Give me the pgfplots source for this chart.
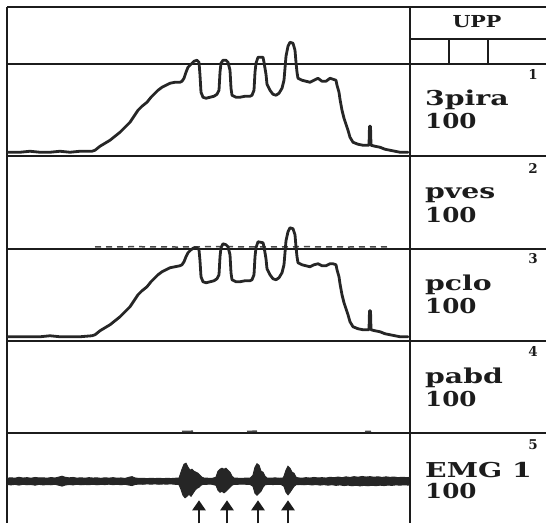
\documentclass[border=0pt]{standalone}
\usepackage{fontspec}
\setmainfont{DejaVu Serif}
\usepackage{graphicx}
\usepackage{pgfplots}
\pgfplotsset{compat=1.18}
\usepackage{pgfplotstable}
\usepgfplotslibrary{fillbetween}
\usetikzlibrary{arrows.meta}

% 3pira pressure trace (time in samples, pressure in panel units)
\pgfplotstableread{
t v
1 4
13 4
23 5
33 4
43 4
53 5
63 4
73 5
85 5
88 6
93 10
98 13
103 16
108 20
113 24
118 29
123 34
127 40
131 46
135 50
140 54
144 59
148 63
151 66
155 69
159 71
163 73
168 74
173 74
175 75
177 78
179 84
181 89
184 92
187 95
190 96
192 94
193 81
194 64
196 59
199 58
203 59
207 60
210 62
212 66
213 84
214 93
216 96
219 96
221 94
223 86
224 68
225 61
229 59
233 59
238 60
243 60
245 61
247 66
248 84
249 93
251 99
256 99
257 94
259 82
260 72
263 66
266 62
269 61
272 63
275 68
277 76
278 88
279 100
281 110
283 114
286 113
288 106
289 94
290 84
291 78
295 76
299 75
303 74
307 76
311 78
315 75
319 75
323 78
326 77
329 76
330 71
332 64
333 57
335 46
337 38
339 32
341 26
343 19
346 14
351 12
356 11
361 11
362 11
362.5 30
363.5 30
364 11
368 10
373 9
378 7
383 6
388 5
393 4
401 4
}\pirtrace

% pclo pressure trace
\pgfplotstableread{
t v
1 4
13 4
23 4
33 4
43 5
53 4
63 4
73 4
85 5
88 6
93 10
98 13
103 16
108 20
113 24
118 29
123 34
127 40
131 46
135 50
140 54
144 59
148 63
151 66
155 69
159 71
163 73
168 74
173 75
175 76
177 79
179 84
181 88
184 91
187 93
190 93
192 91
193 80
194 64
196 59
199 58
203 59
207 60
210 62
212 66
213 84
214 93
216 97
219 96
221 94
223 86
224 68
225 61
229 59
233 59
238 60
243 60
245 61
247 66
248 84
249 93
251 99
256 98
257 94
259 82
260 72
263 66
266 62
269 61
272 63
275 68
277 76
278 88
279 100
281 109
283 113
286 112
288 106
289 94
290 84
291 78
295 76
299 75
303 74
307 76
311 77
315 75
319 75
323 77
326 77
329 76
330 71
332 64
333 57
335 46
337 38
339 32
341 26
343 19
346 14
351 12
356 11
361 11
362 11
362.5 30
363.5 30
364 11
368 10
373 9
378 7
383 6
388 5
393 4
401 4
}\clotrace

% EMG 1 envelope, upper edge
\pgfplotstableread{
t a
0 3
4 3.5
8 3
12 4
16 3.2
20 3.6
24 3
28 3.8
32 3.3
36 3.5
40 3
44 3.7
48 3.2
52 4.2
55 5
58 4
62 3.4
66 3.8
70 3.1
74 3.5
78 3
82 3.6
86 3.2
90 3.4
94 2.9
98 3.5
102 3.1
106 3.6
110 3
114 3.3
118 2.8
122 4
125 4.6
128 3.3
132 2.8
136 3
140 2.6
144 3
148 2.7
152 3
156 2.6
160 2.9
164 2.7
168 3
172 3.2
173 6
175 12
177 17
179 18
181 14
183 11
185 12
187 10
189 9
191 8
193 6
195 4
197 3.2
201 3
205 2.8
209 4
211 10
213 12
215 13
217 12
219 13
221 11
223 9
225 5
227 3.2
231 3
235 2.8
239 3.2
243 3
246 6
248 14
250 17.5
252 16
254 10
256 9
258 5
260 3.2
264 3
268 3.4
272 3
276 3.2
277 5
279 11
281 15
283 13
285 9
287 8
289 4
291 3.4
295 3
299 3.6
303 3.2
307 3.8
311 3.3
315 3.6
319 3.2
323 4
327 3.5
331 4.2
335 3.6
339 4.4
343 3.8
347 4.6
351 4
355 4.8
359 4.2
363 4.6
367 4
371 4.5
375 3.8
379 4.4
383 3.9
387 4.2
391 3.6
395 4
399 3.7
403 3.8
}\emgup

% EMG 1 envelope, lower edge
\pgfplotstableread{
t a
0 -3.2
4 -3.6
8 -3.1
12 -3.8
16 -3
20 -3.5
24 -3.2
28 -3.9
32 -3.1
36 -3.6
40 -3.3
44 -3.5
48 -3
52 -4
55 -4.8
58 -3.8
62 -3.2
66 -3.6
70 -3
74 -3.5
78 -3.2
82 -3.4
86 -3
90 -3.5
94 -3.1
98 -3.3
102 -2.9
106 -3.4
110 -3
114 -3.5
118 -3
122 -3.8
125 -4.3
128 -3.2
132 -2.8
136 -3
140 -2.6
144 -2.9
148 -2.6
152 -3
156 -2.7
160 -2.8
164 -2.6
168 -3
172 -3.3
174 -8
176 -14
178 -16.5
180 -15
182 -13
184 -15
186 -12
188 -9
190 -7
192 -6
194 -4
196 -3
200 -3
204 -2.8
209 -4
211 -9
213 -11
215 -10
217 -11.5
219 -10
221 -8
223 -6
225 -4
227 -3
231 -3
235 -2.8
239 -3
243 -3.2
246 -5
248 -12
250 -14
252 -12
254 -10
256 -6
258 -3.5
262 -3
266 -3.3
270 -3
274 -3.2
277 -5
279 -11
281 -13.5
283 -11
285 -8
287 -5
289 -3.5
293 -3.2
297 -3.5
301 -3.1
305 -3.7
309 -3.2
313 -3.8
317 -3.3
321 -3.9
325 -3.4
329 -4.1
333 -3.6
337 -4.3
341 -3.8
345 -4.5
349 -4
353 -4.6
357 -4.1
361 -4.5
365 -4
369 -4.4
373 -3.9
377 -4.3
381 -3.8
385 -4.1
389 -3.6
393 -3.9
397 -3.5
401 -3.8
403 -3.6
}\emglow

% contraction markers under the EMG trace
\pgfplotstableread{
t y v
192 -42 23
220 -42 23
251 -42 23
281 -42 23
}\marks

\definecolor{ink}{HTML}{1C1C1C}
\definecolor{trace}{HTML}{262626}

\pgfplotsset{
  panel/.style={scale only axis, width=403pt, height=92.25pt,
    xmin=0, xmax=403, ymin=0, ymax=92.25, hide axis, clip=false,
    anchor=north west},
  pressure/.style={trace, line width=2.8pt, line join=round, line cap=round},
}

% wide bold channel captions
\newcommand\chname[1]{\scalebox{1.38}[1]{#1}}
\newcommand\chgain[1]{\scalebox{1.2}[1]{#1}}

\begin{document}
\begin{tikzpicture}

% frame and channel grid
\begin{scope}[ink, line width=2pt]
  \draw (7pt,-7pt) -- (546pt,-7pt);
  \draw (7pt,-7pt) -- (7pt,-523pt);
  \draw (410pt,-7pt) -- (410pt,-523pt);
  \foreach \yy in {64,156.25,248.5,340.75,433}
    \draw (7pt,-\yy pt) -- (546pt,-\yy pt);
  \draw (410pt,-39pt) -- (546pt,-39pt);
  \draw (449pt,-39pt) -- (449pt,-64pt);
  \draw (488pt,-39pt) -- (488pt,-64pt);
\end{scope}

% channel 1: 3pira
\begin{axis}[panel, at={(7pt,-64pt)}]
  \addplot[pressure] table[x=t, y=v] {\pirtrace};
\end{axis}

% channel 2: pves
\begin{axis}[panel, at={(7pt,-156.25pt)}]
  \addplot[trace!85, line width=1.5pt, dash pattern=on 6pt off 5pt]
    coordinates {(88,1.6) (130,1.8) (170,1.5) (210,1.9) (250,1.6) (300,1.8) (340,1.5) (381,1.7)};
\end{axis}

% channel 3: pclo
\begin{axis}[panel, at={(7pt,-248.5pt)}]
  \addplot[pressure] table[x=t, y=v] {\clotrace};
\end{axis}

% channel 4: pabd
\begin{axis}[panel, at={(7pt,-340.75pt)}, unbounded coords=jump]
  \addplot[trace!85, line width=1.5pt]
    coordinates {(175,1.6) (186,1.8) (187,nan) (240,1.6) (250,1.9) (251,nan) (358,1.5) (364,1.7)};
\end{axis}

% channel 5: EMG 1
\begin{axis}[panel, at={(7pt,-433pt)}, ymin=-44, ymax=48.25]
  \addplot[name path=up, trace, line width=1pt] table[x=t, y=a] {\emgup};
  \addplot[name path=lo, trace, line width=1pt] table[x=t, y=a] {\emglow};
  \addplot[trace] fill between[of=up and lo];
  \addplot[ink, line width=2.4pt, quiver={u=0, v=\thisrow{v}},
    -{Triangle[length=10pt, width=13pt]}] table[x=t, y=y] {\marks};
\end{axis}

% channel labels
\node[anchor=base, inner sep=0pt, font=\fontsize{16.5}{18}\selectfont\bfseries, ink]
  at (477pt,-27pt) {\scalebox{1.25}[1]{UPP}};
\begin{scope}[every node/.style={ink, inner sep=0pt, font=\fontsize{20.5}{22}\selectfont\bfseries, anchor=base west}]
  \node at (425pt,-105pt) {\chname{3pira}};     \node at (425pt,-128pt) {\chgain{100}};
  \node at (425pt,-198pt) {\chname{pves}};      \node at (425pt,-222pt) {\chgain{100}};
  \node at (425pt,-290pt) {\chname{pclo}};      \node at (425pt,-313.5pt) {\chgain{100}};
  \node at (425pt,-383pt) {\chname{pabd}};      \node at (425pt,-406.5pt) {\chgain{100}};
  \node at (425pt,-477pt) {\chname{EMG 1}};     \node at (425pt,-498.5pt) {\chgain{100}};
\end{scope}
\begin{scope}[every node/.style={ink, inner sep=0pt, font=\fontsize{13.5}{15}\selectfont\bfseries, anchor=base east}]
  \node at (538pt,-79pt) {1};
  \node at (538pt,-173pt) {2};
  \node at (538pt,-263pt) {3};
  \node at (538pt,-356.5pt) {4};
  \node at (538pt,-449.5pt) {5};
\end{scope}

% page extent
\pgfresetboundingbox
\path[use as bounding box] (0pt,0pt) rectangle (546pt,-523pt);
\end{tikzpicture}
\end{document}
